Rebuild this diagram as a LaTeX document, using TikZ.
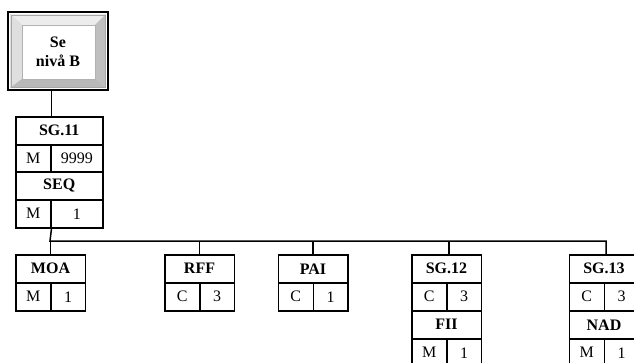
\documentclass[tikz,border=0pt]{standalone}
\usepackage{fontspec}
\setmainfont{Liberation Serif}
\begin{document}
\begin{tikzpicture}[x=1pt,y=-1pt,
  cell/.style={draw, line width=1.5pt, inner sep=0pt, minimum height=28pt, anchor=north west, font=\fontsize{16}{18}\selectfont},
  hd/.style={cell, font=\fontsize{16}{18}\selectfont\bfseries},
  conn/.style={line width=1.5pt}]
\useasboundingbox (0,0) rectangle (634,362);
\clip (0,0) rectangle (634,362);
% top bevelled box
\fill[gray!45] (8,12) rectangle (108,90);
\fill[gray!15] (10,14) -- (106,14) -- (95,25) -- (22,25) -- cycle;
\fill[gray!25] (10,14) -- (22,25) -- (22,79) -- (10,88) -- cycle;
\fill[gray!55] (10,88) -- (22,79) -- (95,79) -- (106,88) -- cycle;
\fill[gray!50] (106,14) -- (95,25) -- (95,79) -- (106,88) -- cycle;
\draw[white, line width=0.8pt] (9.5,13.5) rectangle (106.5,88.5);
\draw[gray!70, line width=0.6pt] (11,15) rectangle (105,87);
\fill[white] (22,25) rectangle (95,79);
\draw[gray!60, line width=0.5pt] (22,25) rectangle (95,79);
\draw[line width=2.2pt] (8,12) rectangle (108,90);
\node[minimum width=100pt, minimum height=78pt, inner sep=0pt, anchor=north west] (top) at (8,12) {};
\node[align=center, font=\fontsize{16}{19}\selectfont\bfseries] (toptext) at (58,52) {Se\\nivå B};
% SG.11 group
\node[hd, minimum width=87pt] (sg11) at (15,116) {SG.11};
\node[cell, minimum width=35pt] (sg11s) at (15,143.5) {M};
\node[cell, minimum width=52pt] (sg11r) at (50,143.5) {9999};
\node[hd, minimum width=87pt] (seq) at (15,171) {SEQ};
\node[cell, minimum width=35pt] (seqs) at (15,199) {M};
\node[cell, minimum width=52pt] (seqr) at (50,199) {1};
% children
\newcommand{\childbox}[5]{%
  \node[hd, minimum width=69.5pt] (#1) at (#2,254) {#3};
  \node[cell, minimum width=35pt] (#1s) at (#2,282) {#4};
  \node[cell, minimum width=34.5pt] (#1r) at (#2+35,282) {#5};}
\childbox{moa}{15}{MOA}{M}{1}
\childbox{rff}{164}{RFF}{C}{3}
\childbox{pai}{277.5}{PAI}{C}{1}
\childbox{sgb}{411}{SG.12}{C}{3}
\childbox{sgc}{568.5}{SG.13}{C}{3}
\node[hd, minimum width=69.5pt] (fii) at (411,310) {FII};
\node[cell, minimum width=35pt] (fiis) at (411,338) {M};
\node[cell, minimum width=34.5pt] (fiir) at (446,338) {1};
\node[hd, minimum width=69.5pt] (nad) at (568.5,310) {NAD};
\node[cell, minimum width=35pt] (nads) at (568.5,338) {M};
\node[cell, minimum width=34.5pt] (nadr) at (603.5,338) {1};
% connectors
\draw[conn] (sg11s.east |- top.south) -- (sg11s.east |- sg11.north);
\coordinate (busL) at (50,241);
\coordinate (busR) at (606,241);
\draw[conn] (seqs.south east) -- (busL) -- (busR) -- (busR |- sgc.north);
\draw[conn] (moa.north) -- (moa.north |- busL);
\draw[conn] (rff.north) -- (rff.north |- busL);
\draw[conn] (pai.north) -- (pai.north |- busL);
\draw[conn] ([xshift=2.5pt]sgb.north) -- ([xshift=2.5pt]sgb.north |- busL);
\end{tikzpicture}
\end{document}
